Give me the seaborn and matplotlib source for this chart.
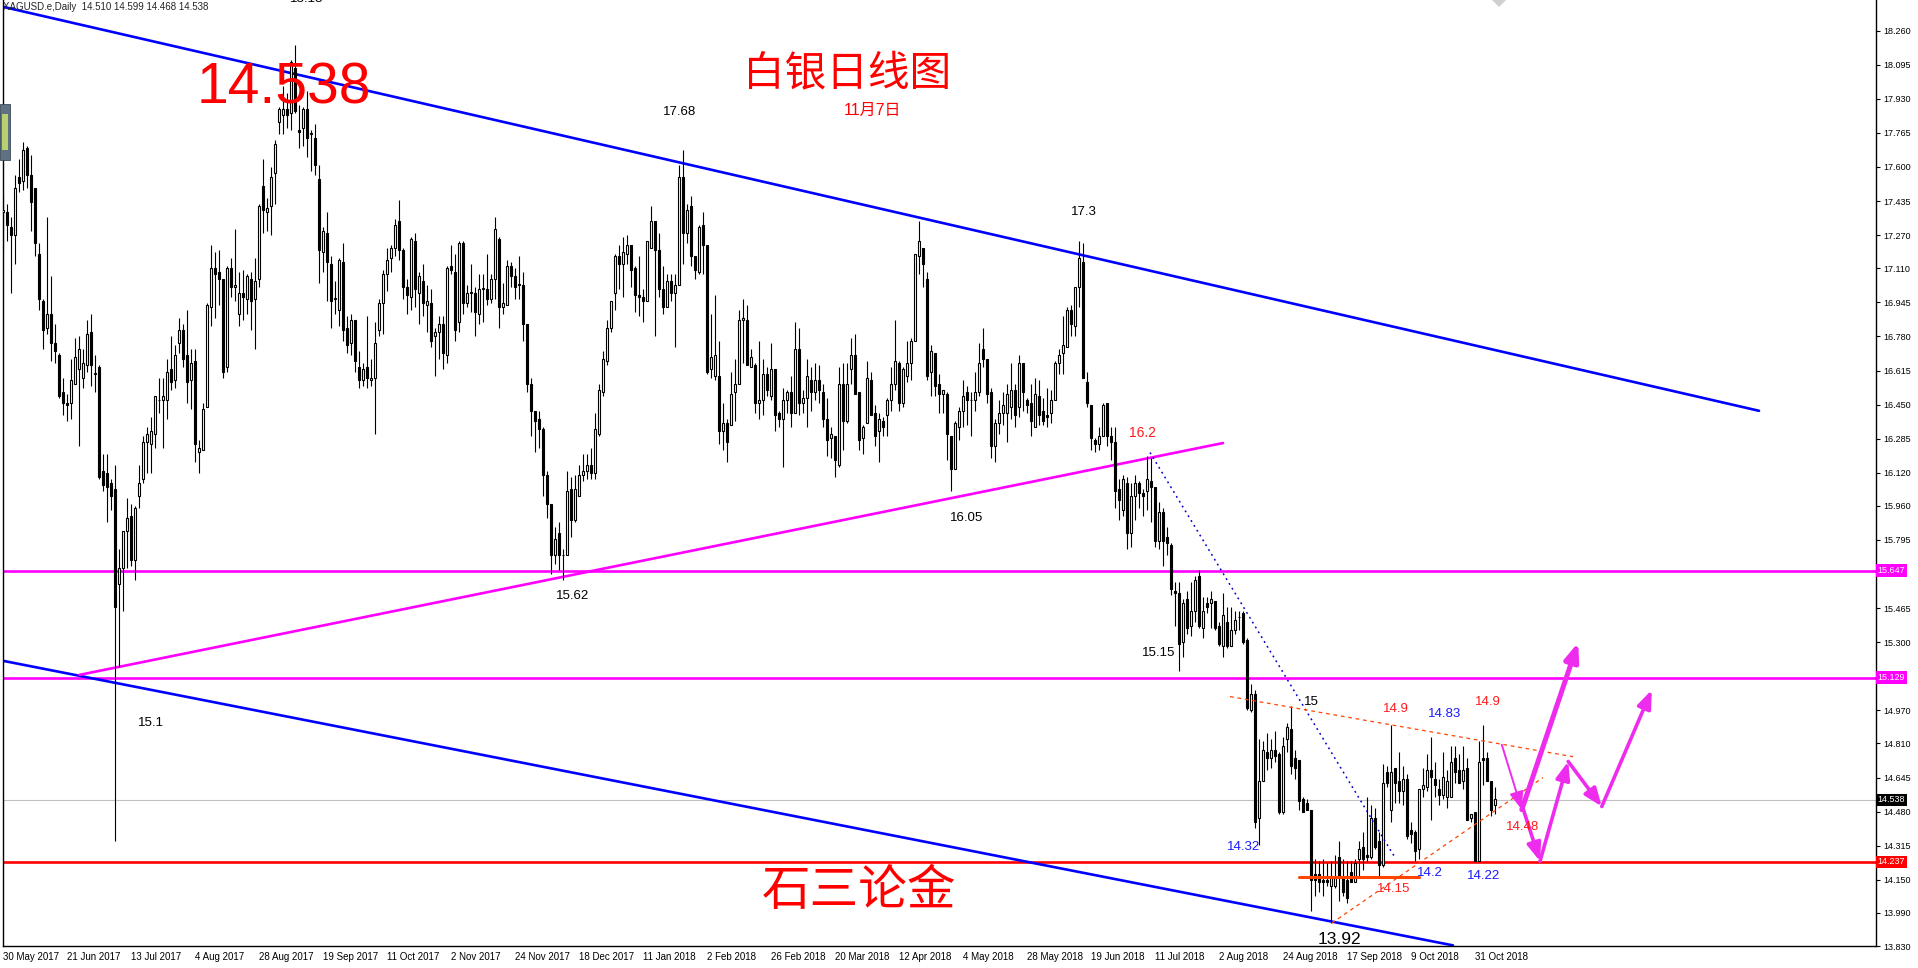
import numpy as np
import pandas as pd
import matplotlib
matplotlib.use("Agg")
import matplotlib.pyplot as plt
import matplotlib.transforms as mtrans
from matplotlib.patches import Rectangle, Polygon
import seaborn as sns

# 白银日线 XAGUSD.e Daily, 2017-05-30 .. 2018-11-07
opens = [17.38, 17.38, 17.31, 17.27, 17.55, 17.53, 17.69, 17.56, 17.50, 17.18, 16.95, 16.82, 16.89, 16.75, 16.69, 16.51,
         16.46, 16.46, 16.55, 16.62, 16.58, 16.64, 16.80, 16.60, 16.63, 16.13, 16.12, 16.07, 16.04, 15.58, 15.66, 15.84,
         15.91, 15.70, 16.01, 16.09, 16.27, 16.26, 16.31, 16.47, 16.47, 16.47, 16.62, 16.57, 16.75, 16.81, 16.69, 16.57,
         16.66, 16.22, 16.23, 16.44, 16.92, 17.11, 17.09, 17.06, 16.63, 17.11, 17.02, 16.89, 16.99, 16.96, 17.06, 16.96,
         17.06, 17.51, 17.38, 17.41, 17.57, 17.82, 17.85, 17.88, 17.86, 18.08, 17.78, 17.79, 17.88, 17.76, 17.74, 17.54,
         17.19, 17.28, 17.13, 16.96, 16.91, 17.14, 16.82, 16.75, 16.86, 16.63, 16.57, 16.63, 16.57, 16.58, 16.81, 16.94,
         17.08, 17.16, 17.21, 17.34, 17.20, 17.02, 16.97, 17.24, 16.99, 17.05, 16.93, 16.94, 16.78, 16.80, 16.84, 16.69,
         17.12, 17.09, 16.85, 17.23, 16.94, 16.99, 16.99, 16.89, 17.01, 17.01, 16.96, 17.06, 17.25, 16.92, 16.93, 17.12,
         17.07, 17.03, 17.03, 16.84, 16.55, 16.42, 16.38, 16.33, 16.11, 15.97, 15.72, 15.83, 15.72, 15.72, 16.04, 15.89,
         16.01, 16.11, 16.13, 16.16, 16.12, 16.31, 16.51, 16.66, 16.82, 16.99, 17.17, 17.13, 17.18, 17.22, 17.11, 16.98,
         16.97, 16.95, 17.21, 17.34, 17.20, 17.01, 16.92, 17.05, 16.99, 17.03, 17.55, 17.28, 17.41, 17.17, 17.09, 17.32,
         17.22, 16.62, 16.59, 16.59, 16.32, 16.36, 16.35, 16.51, 16.55, 16.86, 16.86, 16.63, 16.64, 16.46, 16.47, 16.60,
         16.49, 16.62, 16.41, 16.38, 16.47, 16.51, 16.41, 16.72, 16.46, 16.48, 16.57, 16.51, 16.57, 16.51, 16.38, 16.29,
         16.30, 16.16, 16.55, 16.37, 16.62, 16.69, 16.51, 16.29, 16.36, 16.57, 16.41, 16.32, 16.37, 16.40, 16.47, 16.55,
         16.65, 16.46, 16.59, 16.65, 16.76, 17.17, 17.21, 17.06, 16.61, 16.70, 16.55, 16.50, 16.50, 16.30, 16.14, 16.34,
         16.42, 16.51, 16.47, 16.47, 16.51, 16.72, 16.67, 16.51, 16.25, 16.36, 16.41, 16.41, 16.44, 16.52, 16.44, 16.65,
         16.47, 16.46, 16.34, 16.49, 16.42, 16.40, 16.41, 16.47, 16.65, 16.70, 16.73, 16.91, 16.83, 17.02, 17.14, 16.56,
         16.45, 16.28, 16.26, 16.30, 16.46, 16.30, 16.27, 16.04, 15.94, 16.07, 15.83, 16.01, 16.07, 16.02, 16.03, 16.08,
         16.05, 15.79, 15.93, 15.81, 15.77, 15.55, 15.54, 15.30, 15.51, 15.38, 15.45, 15.62, 15.37, 15.49, 15.49, 15.50,
         15.38, 15.28, 15.40, 15.28, 15.36, 15.42, 15.44, 15.31, 14.97, 15.05, 14.45, 14.63, 14.77, 14.74, 14.78, 14.76,
         14.48, 14.83, 14.88, 14.74, 14.73, 14.54, 14.52, 14.49, 14.18, 14.18, 14.15, 14.15, 14.12, 14.12, 14.26, 14.16,
         14.15, 14.19, 14.14, 14.25, 14.31, 14.27, 14.26, 14.45, 14.34, 14.22, 14.67, 14.49, 14.69, 14.63, 14.58, 14.64,
         14.39, 14.38, 14.30, 14.59, 14.60, 14.68, 14.64, 14.59, 14.56, 14.55, 14.55, 14.74, 14.68, 14.63, 14.69, 14.45,
         14.48, 14.24, 14.74, 14.74, 14.63, 14.51]
highs = [17.46, 17.42, 17.36, 17.56, 17.64, 17.72, 17.70, 17.66, 17.50, 17.23, 16.96, 17.36, 17.07, 16.84, 16.70, 16.58,
         16.50, 16.67, 16.77, 16.78, 16.72, 16.86, 16.89, 16.69, 16.64, 16.21, 16.21, 16.09, 16.16, 15.75, 15.84, 16.00,
         15.97, 15.96, 16.16, 16.30, 16.34, 16.39, 16.49, 16.58, 16.58, 16.67, 16.78, 16.74, 16.87, 16.84, 16.91, 16.72,
         16.72, 16.28, 16.46, 16.94, 17.22, 17.19, 17.20, 17.06, 17.12, 17.16, 17.30, 17.09, 17.10, 17.08, 17.09, 17.16,
         17.42, 17.64, 17.45, 17.60, 17.73, 17.89, 17.99, 17.96, 18.12, 18.19, 17.90, 17.89, 17.97, 17.78, 17.81, 17.61,
         17.31, 17.38, 17.17, 17.05, 17.16, 17.23, 16.88, 16.89, 16.86, 16.71, 16.65, 16.88, 16.67, 16.85, 16.96, 17.10,
         17.21, 17.22, 17.35, 17.44, 17.21, 17.06, 17.26, 17.28, 17.09, 17.13, 17.03, 17.01, 16.82, 16.88, 16.88, 17.12,
         17.22, 17.18, 17.24, 17.24, 17.03, 17.13, 17.02, 17.08, 17.08, 17.18, 17.08, 17.36, 17.26, 17.04, 17.15, 17.14,
         17.11, 17.17, 17.09, 16.84, 16.58, 16.42, 16.42, 16.34, 16.13, 15.97, 15.86, 15.88, 15.75, 16.13, 16.10, 16.11,
         16.16, 16.21, 16.21, 16.24, 16.41, 16.55, 16.71, 16.86, 16.95, 17.18, 17.22, 17.26, 17.27, 17.22, 17.12, 17.17,
         17.01, 17.24, 17.41, 17.34, 17.28, 17.12, 17.08, 17.08, 17.08, 17.61, 17.68, 17.42, 17.46, 17.17, 17.32, 17.38,
         17.22, 16.89, 16.98, 16.76, 16.46, 16.38, 16.61, 16.67, 16.91, 16.96, 16.93, 16.72, 16.65, 16.76, 16.67, 16.63,
         16.75, 16.62, 16.42, 16.53, 16.52, 16.59, 16.85, 16.82, 16.52, 16.67, 16.63, 16.65, 16.64, 16.55, 16.48, 16.34,
         16.30, 16.63, 16.65, 16.65, 16.77, 16.79, 16.51, 16.35, 16.66, 16.61, 16.45, 16.41, 16.39, 16.48, 16.63, 16.86,
         16.66, 16.63, 16.76, 16.77, 17.18, 17.34, 17.21, 17.09, 16.74, 16.70, 16.60, 16.52, 16.51, 16.30, 16.37, 16.44,
         16.57, 16.54, 16.51, 16.61, 16.75, 16.82, 16.67, 16.53, 16.38, 16.47, 16.51, 16.55, 16.65, 16.55, 16.69, 16.65,
         16.48, 16.55, 16.58, 16.57, 16.48, 16.53, 16.52, 16.66, 16.72, 16.88, 16.92, 16.93, 17.02, 17.24, 17.23, 16.61,
         16.45, 16.29, 16.34, 16.46, 16.46, 16.34, 16.34, 16.09, 16.11, 16.10, 16.07, 16.11, 16.08, 16.04, 16.20, 16.19,
         16.05, 15.98, 15.95, 15.86, 15.78, 15.59, 15.59, 15.51, 15.55, 15.59, 15.62, 15.65, 15.52, 15.52, 15.55, 15.50,
         15.40, 15.54, 15.47, 15.47, 15.45, 15.45, 15.45, 15.32, 15.10, 15.07, 14.83, 14.82, 14.86, 14.83, 14.87, 14.77,
         14.84, 14.91, 14.99, 14.78, 14.73, 14.55, 14.54, 14.49, 14.25, 14.24, 14.25, 14.23, 14.24, 14.27, 14.34, 14.25,
         14.24, 14.24, 14.25, 14.34, 14.38, 14.55, 14.51, 14.50, 14.38, 14.71, 14.70, 14.90, 14.69, 14.77, 14.70, 14.66,
         14.43, 14.39, 14.59, 14.69, 14.76, 14.84, 14.72, 14.64, 14.77, 14.68, 14.80, 14.80, 14.76, 14.80, 14.74, 14.47,
         14.48, 14.82, 14.90, 14.77, 14.63, 14.60]
lows = [17.20, 17.24, 16.99, 17.13, 17.48, 17.49, 17.50, 17.29, 17.17, 16.91, 16.72, 16.79, 16.66, 16.65, 16.48, 16.40,
        16.37, 16.38, 16.55, 16.25, 16.53, 16.61, 16.54, 16.51, 16.09, 16.03, 15.88, 15.94, 14.34, 15.18, 15.45, 15.66,
        15.67, 15.60, 15.95, 16.07, 16.12, 16.12, 16.24, 16.41, 16.24, 16.38, 16.52, 16.53, 16.70, 16.63, 16.46, 16.43,
        16.17, 16.12, 16.23, 16.44, 16.83, 16.87, 16.93, 16.58, 16.61, 16.97, 16.95, 16.83, 16.86, 16.89, 16.81, 16.72,
        17.02, 17.28, 17.29, 17.27, 17.42, 17.76, 17.76, 17.79, 17.78, 17.86, 17.69, 17.70, 17.65, 17.58, 17.56, 17.04,
        17.09, 16.95, 16.82, 16.89, 16.83, 16.76, 16.70, 16.69, 16.61, 16.53, 16.54, 16.53, 16.54, 16.31, 16.78, 16.79,
        17.00, 17.09, 17.17, 17.15, 16.96, 16.89, 16.91, 16.92, 16.84, 16.88, 16.80, 16.73, 16.59, 16.67, 16.62, 16.65,
        17.08, 16.76, 16.80, 16.89, 16.92, 16.90, 16.78, 16.84, 16.85, 16.93, 16.94, 16.96, 16.82, 16.89, 16.93, 17.02,
        16.96, 16.96, 16.76, 16.51, 16.30, 16.22, 16.24, 16.01, 15.90, 15.63, 15.68, 15.65, 15.60, 15.72, 15.81, 15.88,
        16.01, 16.08, 16.09, 16.09, 16.09, 16.30, 16.49, 16.64, 16.80, 16.91, 17.01, 16.97, 17.13, 17.02, 16.90, 16.88,
        16.85, 16.95, 17.21, 16.78, 16.97, 16.89, 16.92, 16.95, 16.73, 17.03, 17.13, 17.23, 17.12, 17.06, 17.08, 17.08,
        16.60, 16.58, 16.57, 16.26, 16.23, 16.17, 16.35, 16.37, 16.55, 16.65, 16.64, 16.63, 16.41, 16.38, 16.40, 16.49,
        16.47, 16.32, 16.34, 16.15, 16.41, 16.34, 16.41, 16.40, 16.41, 16.34, 16.42, 16.47, 16.46, 16.34, 16.20, 16.19,
        16.10, 16.15, 16.23, 16.36, 16.55, 16.50, 16.23, 16.21, 16.36, 16.40, 16.25, 16.17, 16.30, 16.30, 16.42, 16.52,
        16.42, 16.44, 16.56, 16.57, 16.76, 17.08, 17.02, 16.57, 16.49, 16.49, 16.41, 16.41, 16.18, 16.03, 16.14, 16.28,
        16.34, 16.35, 16.30, 16.42, 16.49, 16.63, 16.46, 16.19, 16.17, 16.31, 16.35, 16.27, 16.38, 16.34, 16.39, 16.42,
        16.41, 16.30, 16.34, 16.35, 16.35, 16.34, 16.36, 16.47, 16.60, 16.60, 16.73, 16.78, 16.78, 16.92, 16.58, 16.44,
        16.23, 16.22, 16.23, 16.30, 16.25, 16.18, 15.95, 15.89, 15.91, 15.75, 15.76, 15.89, 15.95, 15.91, 15.94, 15.88,
        15.76, 15.75, 15.67, 15.72, 15.53, 15.38, 15.16, 15.23, 15.34, 15.33, 15.40, 15.37, 15.32, 15.44, 15.37, 15.36,
        15.28, 15.23, 15.27, 15.28, 15.34, 15.36, 15.29, 14.97, 14.96, 14.40, 14.32, 14.63, 14.68, 14.69, 14.72, 14.47,
        14.47, 14.77, 14.66, 14.64, 14.49, 14.48, 14.49, 14.00, 14.07, 14.09, 14.07, 14.12, 13.94, 14.11, 14.05, 14.07,
        14.04, 14.14, 14.14, 14.17, 14.20, 14.24, 14.25, 14.30, 14.17, 14.21, 14.60, 14.43, 14.52, 14.52, 14.51, 14.35,
        14.33, 14.24, 14.25, 14.55, 14.58, 14.44, 14.55, 14.51, 14.54, 14.50, 14.55, 14.62, 14.62, 14.59, 14.44, 14.43,
        14.24, 14.24, 14.61, 14.63, 14.46, 14.47]
closes = [17.39, 17.32, 17.27, 17.50, 17.52, 17.68, 17.56, 17.43, 17.23, 16.96, 16.81, 16.89, 16.75, 16.71, 16.49, 16.46,
          16.45, 16.57, 16.68, 16.72, 16.65, 16.79, 16.64, 16.60, 16.10, 16.06, 16.05, 16.01, 15.47, 15.66, 15.84, 15.90,
          15.70, 15.95, 16.07, 16.27, 16.31, 16.32, 16.49, 16.47, 16.49, 16.61, 16.56, 16.69, 16.81, 16.67, 16.56, 16.65,
          16.26, 16.24, 16.43, 16.93, 17.11, 17.08, 17.06, 16.61, 17.11, 17.02, 17.03, 16.99, 16.97, 17.07, 16.95, 17.05,
          17.41, 17.39, 17.40, 17.55, 17.71, 17.88, 17.88, 17.85, 18.11, 17.87, 17.77, 17.88, 17.74, 17.76, 17.61, 17.20,
          17.29, 17.14, 16.95, 16.96, 17.15, 16.81, 16.74, 16.86, 16.66, 16.57, 16.62, 16.58, 16.58, 16.75, 16.94, 17.08,
          17.15, 17.21, 17.32, 17.20, 17.02, 16.98, 17.25, 17.01, 17.07, 16.94, 16.95, 16.76, 16.80, 16.84, 16.70, 17.11,
          17.10, 16.81, 17.23, 16.94, 16.99, 16.99, 16.90, 17.01, 17.01, 16.96, 17.06, 17.30, 16.92, 16.94, 17.12, 17.07,
          17.02, 17.03, 16.84, 16.55, 16.42, 16.37, 16.33, 16.11, 15.97, 15.72, 15.80, 15.72, 15.72, 16.03, 15.89, 16.04,
          16.11, 16.13, 16.16, 16.12, 16.33, 16.52, 16.67, 16.82, 16.95, 17.17, 17.13, 17.19, 17.22, 17.10, 16.98, 16.97,
          16.95, 17.24, 17.34, 17.20, 17.01, 16.92, 17.05, 16.99, 17.03, 17.55, 17.28, 17.39, 17.17, 17.10, 17.31, 17.22,
          16.61, 16.68, 16.69, 16.32, 16.36, 16.27, 16.50, 16.55, 16.86, 16.87, 16.64, 16.68, 16.46, 16.47, 16.60, 16.52,
          16.62, 16.40, 16.38, 16.47, 16.51, 16.41, 16.72, 16.46, 16.48, 16.59, 16.51, 16.57, 16.52, 16.38, 16.28, 16.31,
          16.18, 16.55, 16.37, 16.55, 16.69, 16.50, 16.28, 16.34, 16.58, 16.40, 16.30, 16.38, 16.34, 16.47, 16.55, 16.66,
          16.46, 16.62, 16.65, 16.76, 17.18, 17.24, 17.13, 16.59, 16.71, 16.54, 16.50, 16.52, 16.31, 16.14, 16.36, 16.42,
          16.49, 16.47, 16.47, 16.51, 16.65, 16.67, 16.50, 16.25, 16.36, 16.41, 16.45, 16.50, 16.52, 16.40, 16.65, 16.51,
          16.45, 16.37, 16.50, 16.40, 16.37, 16.39, 16.47, 16.65, 16.69, 16.74, 16.91, 16.84, 17.02, 17.16, 16.58, 16.46,
          16.29, 16.26, 16.30, 16.45, 16.30, 16.27, 16.03, 15.99, 16.09, 15.83, 16.01, 16.07, 16.02, 16.01, 16.09, 16.05,
          15.79, 15.93, 15.79, 15.78, 15.56, 15.54, 15.29, 15.49, 15.37, 15.45, 15.60, 15.38, 15.45, 15.47, 15.51, 15.37,
          15.29, 15.43, 15.28, 15.36, 15.41, 15.42, 15.30, 14.98, 15.05, 14.43, 14.63, 14.78, 14.74, 14.78, 14.75, 14.48,
          14.80, 14.89, 14.70, 14.69, 14.53, 14.48, 14.49, 14.15, 14.15, 14.14, 14.14, 14.14, 14.17, 14.16, 14.17, 14.09,
          14.06, 14.14, 14.23, 14.30, 14.25, 14.26, 14.45, 14.31, 14.22, 14.62, 14.62, 14.67, 14.62, 14.58, 14.64, 14.36,
          14.37, 14.29, 14.59, 14.61, 14.68, 14.65, 14.61, 14.56, 14.65, 14.63, 14.72, 14.67, 14.62, 14.68, 14.44, 14.47,
          14.24, 14.72, 14.73, 14.63, 14.49, 14.54]

date_labels = ["30 May 2017", "21 Jun 2017", "13 Jul 2017", "4 Aug 2017", "28 Aug 2017", "19 Sep 2017",
               "11 Oct 2017", "2 Nov 2017", "24 Nov 2017", "18 Dec 2017", "11 Jan 2018", "2 Feb 2018",
               "26 Feb 2018", "20 Mar 2018", "12 Apr 2018", "4 May 2018", "28 May 2018", "19 Jun 2018",
               "11 Jul 2018", "2 Aug 2018", "24 Aug 2018", "17 Sep 2018", "9 Oct 2018", "31 Oct 2018"]
bars_per_label = 16

price_ticks = [18.260, 18.095, 17.930, 17.765, 17.600, 17.435, 17.270, 17.110, 16.945, 16.780, 16.615, 16.450,
               16.285, 16.120, 15.960, 15.795, 15.630, 15.465, 15.300, 15.135, 14.970, 14.810, 14.645, 14.480,
               14.315, 14.150, 13.990, 13.830]
hidden_ticks = [15.630, 15.135]   # covered by the level boxes

# horizontal levels: value, colour of line / price box
levels = [(15.647, "#ff00ff"), (15.129, "#ff00ff"), (14.237, "#ff0000")]
bid = 14.538

# trend lines: (bar index, price) pairs
upper_channel = [(0.0, 18.375), (439.0, 16.420)]
lower_channel = [(-0.75, 15.213), (362.5, 13.833)]
support_rise = [(19.1, 15.142), (305.0, 16.264)]
blue_dotted = [(286.75, 16.218), (348.0, 14.258)]
tri_top = [(306.75, 15.037), (392.5, 14.746)]
tri_bottom = [(332.2, 13.941), (385.0, 14.645)]
base_1415 = [(323.9, 14.165), (354.0, 14.165)]

# projected path arrows: start -> tip, width
arrows = [((374.7, 14.804), (379.7, 14.49), 1.4),
          ((380.1, 14.49), (384.25, 14.24), 2.6),
          ((384.25, 14.24), (391.3, 14.723), 2.6),
          ((391.3, 14.723), (399.7, 14.505), 2.6),
          ((399.7, 14.505), (412.2, 15.069), 2.6),
          ((379.7, 14.49), (393.8, 15.299), 3.6)]

# price notes: text, bar index, price, colour, size
notes = [("18.18", 76.0, 18.412, "black", 9.5),
         ("17.68", 169.25, 17.864, "black", 9.5),
         ("17.3", 270.2, 17.384, "black", 9.5),
         ("16.2", 284.9, 16.313, "#ff1a1a", 10),
         ("16.05", 240.8, 15.899, "black", 9.5),
         ("15.62", 142.4, 15.526, "black", 9.5),
         ("15.15", 288.85, 15.248, "black", 9.5),
         ("15.1", 36.9, 14.910, "black", 9.5),
         ("15", 327.1, 15.012, "black", 9.5),
         ("14.9", 348.2, 14.976, "#ff1a1a", 9.5),
         ("14.83", 360.4, 14.952, "#1a1aff", 9.5),
         ("14.9", 371.1, 15.012, "#ff1a1a", 9.5),
         ("14.32", 310.25, 14.307, "#1a1aff", 9.5),
         ("14.2", 356.75, 14.183, "#1a1aff", 9.5),
         ("14.22", 370.2, 14.171, "#1a1aff", 9.5),
         ("14.15", 347.7, 14.106, "#ff1a1a", 9.5),
         ("14.48", 380.0, 14.407, "#ff1a1a", 9.5),
         ("13.92", 334.1, 13.863, "black", 12.5)]

sns.set_style("white")
plt.rcParams['font.family'] = ['Liberation Sans', 'Noto Sans CJK SC', 'DejaVu Sans']

df = pd.DataFrame({"o": opens, "h": highs, "l": lows, "c": closes})
df["x"] = np.arange(len(df))
up = df[df["c"] >= df["o"]]
dn = df[df["c"] < df["o"]]

W, H = 1918, 968
fig = plt.figure(figsize=(W / 100, H / 100), dpi=100)
ax = fig.add_axes([2.7 / W, 22 / H, (1876 - 2.7) / W, 946 / H])
ax.set_xlim(-0.075, 468.25)
ax.set_ylim(13.831, 18.408)

# candles
ax.vlines(df["x"], df["l"], df["h"], color="black", lw=0.8, zorder=3)
ax.bar(up["x"], (up["c"] - up["o"]).clip(lower=0.004), bottom=up["o"], width=0.55,
       facecolor="white", edgecolor="black", linewidth=0.8, zorder=4)
ax.bar(dn["x"], dn["c"] - dn["o"], bottom=dn["o"], width=0.55,
       facecolor="black", edgecolor="black", linewidth=0.8, zorder=4)

# horizontal levels
for val, col in levels:
    ax.axhline(val, color=col, lw=1.9, zorder=2)
ax.axhline(bid, color="#c0c0c0", lw=0.8, zorder=1)


def seg(pts, **kw):
    sns.lineplot(x=[p[0] for p in pts], y=[p[1] for p in pts], ax=ax, **kw)


seg(upper_channel, color="#0000ff", lw=1.9, zorder=2)
seg(lower_channel, color="#0000ff", lw=1.9, zorder=2)
seg(support_rise, color="#ff00ff", lw=1.9, zorder=2)
seg(blue_dotted, color="#0000cd", lw=1.1, linestyle=(0, (1.2, 2.5)), zorder=5)
seg(tri_top, color="#ff4500", lw=0.9, linestyle=(0, (3, 3)), zorder=5)
seg(tri_bottom, color="#ff4500", lw=0.9, linestyle=(0, (3, 3)), zorder=5)
seg(base_1415, color="#ff4500", lw=2.2, zorder=5)

for start, tip, w in arrows:
    ax.annotate("", xy=tip, xytext=start, zorder=6,
                arrowprops=dict(arrowstyle="-|>,head_length=0.9,head_width=0.35", color="#ee2cee",
                                lw=w, shrinkA=0, shrinkB=0, mutation_scale=12))

for txt, x, y, col, fs in notes:
    ax.text(x, y, txt, color=col, fontsize=fs, ha="center", va="center", zorder=7, clip_on=True)

# big titles
ax.text(70.25, 17.982, "14.538", color="#ff0000", fontsize=41, ha="center", va="center", zorder=7)
ax.text(210.9, 18.047, "白银日线图", color="#ff0000", fontsize=30, ha="center", va="center", zorder=7)
ax.text(217.3, 17.876, "11月7日", color="#ff0000", fontsize=11.5, ha="center", va="center", zorder=7)
ax.text(213.9, 14.088, "石三论金", color="#ff0000", fontsize=35, ha="center", va="center", zorder=7)

# axes look (MetaTrader style)
ax.spines["top"].set_visible(False)
for s in ["left", "right", "bottom"]:
    ax.spines[s].set_color("black")
    ax.spines[s].set_linewidth(1.0)

ax.yaxis.tick_right()
ax.set_yticks(price_ticks)
ax.set_yticklabels(["" if v in hidden_ticks else f"{v:.3f}" for v in price_ticks])
ax.tick_params(axis="y", direction="out", length=3, width=0.8, pad=2, labelsize=6.5, colors="black")

xt = [k * bars_per_label for k in range(len(date_labels))]
ax.set_xticks(xt)
ax.set_xticklabels(date_labels, ha="left")
ax.tick_params(axis="x", direction="out", length=3, width=0.8, pad=1.5, labelsize=7, colors="black")
ax.set_xlabel("")
ax.set_ylabel("")

# price boxes on the right scale
tr = mtrans.blended_transform_factory(ax.transAxes, ax.transData)
for val, col in levels + [(bid, "black")]:
    ax.text(1.0008, val, f"{val:.3f}", transform=tr, color="white", fontsize=6.5, ha="left", va="center",
            zorder=8, clip_on=False,
            bbox=dict(boxstyle="square,pad=0.18", facecolor=col, edgecolor="none"))

# header, side widget and shift marker
fig.text(3 / W, 1 - 7 / H, "XAGUSD.e,Daily  14.510 14.599 14.468 14.538", fontsize=7, ha="left", va="center")
fig.patches.append(Rectangle((0, 1 - 160 / H), 10 / W, 56 / H, transform=fig.transFigure,
                             facecolor="#5f7183", edgecolor="#3c4a58", lw=0.6))
fig.patches.append(Rectangle((2 / W, 1 - 150 / H), 6 / W, 36 / H, transform=fig.transFigure,
                             facecolor="#b8d070", edgecolor="none"))
fig.patches.append(Polygon([[1492 / W, 1.0], [1506 / W, 1.0], [1499 / W, 1 - 7 / H]], closed=True,
                           transform=fig.transFigure, facecolor="#d0d0d0", edgecolor="none"))

fig.savefig("out.png", dpi=100, facecolor="white")
